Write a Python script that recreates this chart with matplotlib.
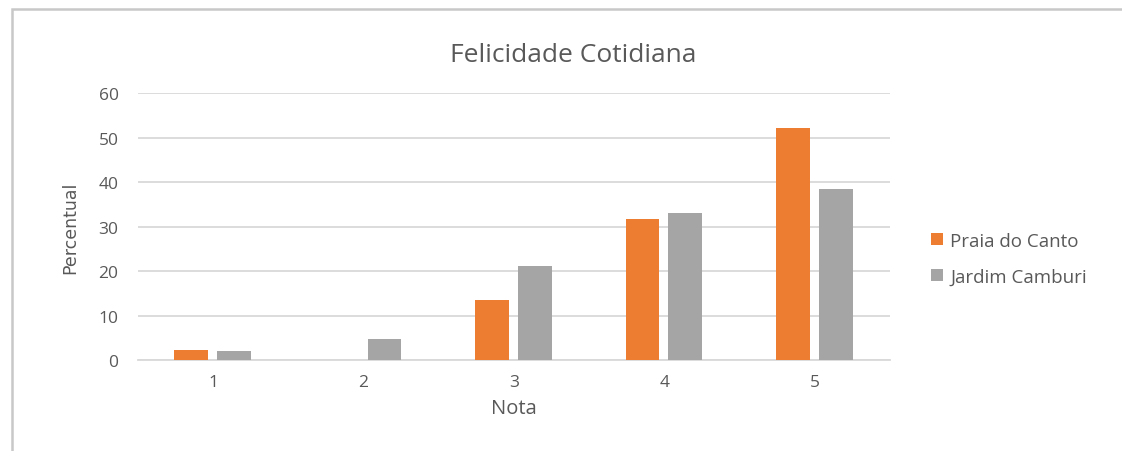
import numpy as np
import matplotlib.pyplot as plt
from matplotlib.patches import Rectangle

# Data
notas = ['1', '2', '3', '4', '5']
praia_do_canto = [2.2, 0.0, 13.5, 31.7, 52.2]
jardim_camburi = [2.0, 4.7, 21.1, 33.0, 38.5]

orange = '#ED7D31'
gray = '#A5A5A5'
txt = '#595959'
plt.rcParams['font.family'] = ['Open Sans', 'DejaVu Sans']

fig = plt.figure(figsize=(11.22, 4.52), dpi=100)
# outer frame of the chart area
fig.patches.append(Rectangle((0.011, -0.02), 1.05, 0.998, transform=fig.transFigure,
                             fill=False, edgecolor='#c8c8c8', lw=1.8))
ax = fig.add_axes([0.123, 0.201, 0.670, 0.591])

x = np.arange(len(notas))
w = 0.225
ax.bar(x - 0.145, praia_do_canto, w, color=orange, label='Praia do Canto', zorder=3)
ax.bar(x + 0.14, jardim_camburi, w, color=gray, label='Jardim Camburi', zorder=3)

ax.set_xlim(-0.5, 4.5)
ax.set_ylim(0, 60)
ax.set_yticks(range(0, 61, 10))
ax.set_xticks(x, notas)
ax.yaxis.grid(True, color='#d9d9d9', lw=1.3, zorder=0)
for s in ['top', 'right', 'left']:
    ax.spines[s].set_visible(False)
ax.spines['bottom'].set_color('#d9d9d9')
ax.spines['bottom'].set_linewidth(1.3)
ax.tick_params(length=0, colors=txt, labelsize=12.5, pad=10)
ax.tick_params(axis='y', pad=14)

fig.text(0.511, 0.878, 'Felicidade Cotidiana', fontsize=19, color=txt,
         ha='center', va='center')
ax.set_xlabel('Nota', fontsize=14.5, color=txt, labelpad=6)
ax.set_ylabel('Percentual', fontsize=12.5, color=txt, labelpad=14,
              family=['Liberation Sans Narrow', 'DejaVu Sans'])

ax.legend(loc='center left', bbox_to_anchor=(1.033, 0.38), frameon=False,
          fontsize=13.5, labelcolor=txt, handlelength=0.6, handleheight=0.6,
          handletextpad=0.4, labelspacing=0.95)

fig.savefig('out.png', dpi=100)
